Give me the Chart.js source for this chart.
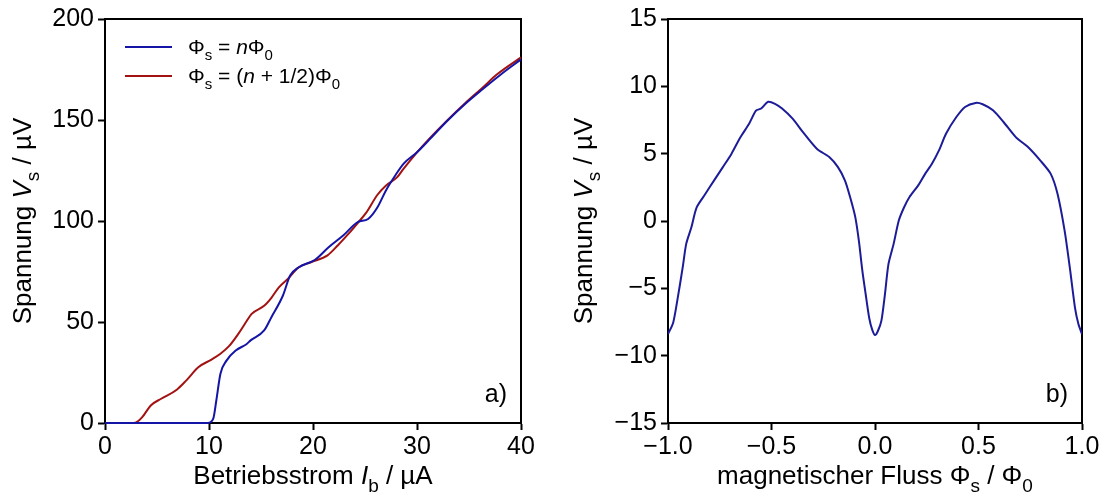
<!DOCTYPE html>
<html>
<head>
<meta charset="utf-8">
<script src="https://cdn.jsdelivr.net/npm/chart.js@4.4.1/dist/chart.umd.min.js"></script>
<style>
  html, body { margin: 0; padding: 0; background: #fff; }
  #wrap { position: relative; width: 1105px; height: 497px; overflow: hidden; }
  canvas { position: absolute; top: 0; }
</style>
</head>
<body>
<div id="wrap">
  <canvas id="ivc" width="552" height="497" style="left:0px"></canvas>
  <canvas id="vphi" width="553" height="497" style="left:552px"></canvas>
</div>
<script>
// ---- a) current-voltage characteristics ----
// bias current I_b in µA and voltage V_s in µV, flux at integer multiples of Φ0
const ibInteger = [0, 2, 4, 6, 8, 9.9, 10.4, 10.7, 11.1, 11.7, 12.6, 13.6, 14.0, 15.3, 16.0, 17.1, 17.8, 18.6, 20.2, 21.5, 22.9, 24.3, 25.3, 26.2, 27.0, 27.7, 28.7, 30.0, 31.1, 32.9, 34.6, 36.3, 38.0, 40];
const vsInteger = [0, 0, 0, 0, 0, 0, 2, 11, 24.4, 31, 36, 39, 40.9, 45.8, 52.4, 63, 73, 77, 80.8, 87, 92.8, 99.4, 101, 106.8, 115, 120.9, 128.3, 134, 139.8, 149.5, 157.8, 165.2, 172.3, 180];
// flux at half-integer multiples of Φ0
const ibHalf = [0, 1.5, 2.7, 3.2, 3.6, 4.4, 5.4, 6.9, 7.8, 9.0, 10.2, 11.1, 11.9, 12.8, 13.5, 14.1, 15.3, 16.0, 16.7, 17.6, 18.6, 19.8, 21.4, 22.4, 23.4, 24.3, 25.1, 26.2, 27.0, 28.1, 28.7, 30.0, 31.1, 32.9, 34.6, 36.3, 37.7, 40];
const vsHalf = [0, 0, 0, 1, 3, 8.7, 12, 16.5, 21, 27.7, 31.3, 34.3, 37.9, 44, 49.5, 54, 58, 62, 67, 71.4, 77, 79.6, 83, 88, 93.6, 99, 104, 113, 117.5, 121.7, 125.8, 134, 140.3, 149.8, 158.2, 166, 172.6, 181];
const ibTicks = [0, 10, 20, 30, 40];
const vsTicks = [0, 50, 100, 150, 200];

// ---- b) voltage-flux characteristic ----
const fluxValues = [-1.0, -0.975, -0.955, -0.929, -0.912, -0.887, -0.862, -0.82, -0.778, -0.735, -0.693, -0.651, -0.609, -0.575, -0.55, -0.516, -0.483, -0.449, -0.398, -0.348, -0.28, -0.221, -0.179, -0.145, -0.12, -0.095, -0.078, -0.061, -0.045, -0.028, -0.014, 0.0, 0.014, 0.031, 0.048, 0.065, 0.09, 0.115, 0.14, 0.166, 0.208, 0.242, 0.275, 0.309, 0.343, 0.393, 0.435, 0.486, 0.52, 0.57, 0.621, 0.68, 0.739, 0.798, 0.849, 0.882, 0.916, 0.941, 0.966, 0.983, 1.0];
const voltageValues = [-8.4, -7.55, -5.9, -3.45, -1.7, -0.47, 1.0, 2.0, 3.0, 4.0, 5.0, 6.2, 7.2, 8.2, 8.35, 8.85, 8.7, 8.35, 7.6, 6.6, 5.35, 4.75, 4.0, 3.0, 1.76, 0.27, -1.46, -3.7, -5.44, -7.2, -8.05, -8.47, -8.17, -7.4, -5.44, -3.2, -1.7, 0.03, 1.0, 1.76, 2.63, 3.5, 4.25, 5.24, 6.48, 7.72, 8.47, 8.77, 8.67, 8.22, 7.35, 6.23, 5.49, 4.5, 3.5, 2.0, -0.72, -3.45, -6.43, -7.67, -8.4];
const fluxTicks = [-1.0, -0.5, 0.0, 0.5, 1.0];
const voltTicks = [-15, -10, -5, 0, 5, 10, 15];

const FONT = '"Liberation Sans", Arial, Helvetica, sans-serif';
const TICK_SIZE = 25;
const TITLE_SIZE = 26;
const BLUE = '#1414a6';
const RED = '#a31212';
const NAVY = '#1c1c98';

const toPoints = (xs, ys) => xs.map((x, i) => ({ x: x, y: ys[i] }));
const minus = s => String(s).replace('-', '\u2212');

// draws a line of text made of runs (italic / subscript)
function drawRich(ctx, parts, x, y, size, align, rot) {
  const fontFor = p => (p.it ? 'italic ' : '') + (p.sub ? Math.round(size * 0.72) : size) + 'px ' + FONT;
  let total = 0;
  const widths = parts.map(p => { ctx.font = fontFor(p); const w = ctx.measureText(p.t).width; total += w; return w; });
  ctx.save();
  ctx.translate(x, y);
  if (rot) ctx.rotate(rot);
  let cx = align === 'center' ? -total / 2 : (align === 'right' ? -total : 0);
  ctx.textBaseline = 'alphabetic';
  ctx.textAlign = 'left';
  ctx.fillStyle = '#000';
  parts.forEach((p, i) => {
    ctx.font = fontFor(p);
    ctx.fillText(p.t, cx, p.sub ? size * 0.3 : 0);
    cx += widths[i];
  });
  ctx.restore();
}

// frame, axis titles, panel letter and legend
function decorations(cfg) {
  return {
    id: 'decorations',
    beforeDatasetsDraw(chart) {
      const ctx = chart.ctx;
      const a = chart.chartArea;
      ctx.save();
      ctx.strokeStyle = '#000';
      ctx.lineWidth = 2;
      ctx.strokeRect(a.left, a.top, a.right - a.left, a.bottom - a.top);
      ctx.restore();
    },
    afterDraw(chart) {
      const ctx = chart.ctx;
      const a = chart.chartArea;
      const cxm = (a.left + a.right) / 2;
      const cym = (a.top + a.bottom) / 2;
      drawRich(ctx, cfg.xTitle, cxm, 484, TITLE_SIZE, 'center', 0);
      drawRich(ctx, cfg.yTitle, cfg.yTitleX, cym, TITLE_SIZE, 'center', -Math.PI / 2);
      ctx.save();
      ctx.font = TICK_SIZE + 'px ' + FONT;
      ctx.fillStyle = '#000';
      ctx.textAlign = 'right';
      ctx.textBaseline = 'alphabetic';
      ctx.fillText(cfg.letter, a.right - 14, a.bottom - 21);
      ctx.restore();
      if (cfg.legend) {
        cfg.legend.forEach((item, i) => {
          const ds = chart.data.datasets[item.dataset];
          const ly = a.top + 28 + i * 29;
          ctx.save();
          ctx.strokeStyle = ds.borderColor;
          ctx.lineWidth = 2;
          ctx.beginPath();
          ctx.moveTo(a.left + 20, ly);
          ctx.lineTo(a.left + 67, ly);
          ctx.stroke();
          ctx.restore();
          drawRich(ctx, item.parts, a.left + 83, ly + 7, 21, 'left', 0);
        });
      }
    }
  };
}

function scaleX(min, max, ticks, fmt, height) {
  return {
    type: 'linear', min: min, max: max,
    afterBuildTicks: s => { s.ticks = ticks.map(v => ({ value: v })); },
    afterFit: s => { s.height = height; },
    border: { display: true, color: '#000', width: 2 },
    grid: { display: true, drawOnChartArea: false, drawTicks: true, tickLength: 7, tickWidth: 2, tickColor: '#000' },
    ticks: { color: '#000', padding: 2, maxRotation: 0, autoSkip: false, font: { family: FONT, size: TICK_SIZE }, callback: fmt }
  };
}
function scaleY(min, max, ticks, fmt, width) {
  return {
    type: 'linear', min: min, max: max,
    afterBuildTicks: s => { s.ticks = ticks.map(v => ({ value: v })); },
    afterFit: s => { s.width = width; },
    border: { display: true, color: '#000', width: 2 },
    grid: { display: true, drawOnChartArea: false, drawTicks: true, tickLength: 7, tickWidth: 2, tickColor: '#000' },
    ticks: { color: '#000', padding: 4, autoSkip: false, font: { family: FONT, size: TICK_SIZE }, callback: fmt }
  };
}

const common = {
  responsive: false,
  animation: false,
  devicePixelRatio: 1,
  plugins: { legend: { display: false }, tooltip: { enabled: false } },
  elements: { point: { radius: 0 } }
};

const voltTitle = [{ t: 'Spannung ' }, { t: 'V', it: true }, { t: 's', sub: true }, { t: ' / µV' }];

new Chart(document.getElementById('ivc'), {
  type: 'line',
  data: {
    datasets: [
      { data: toPoints(ibInteger, vsInteger), borderColor: BLUE, borderWidth: 2, cubicInterpolationMode: 'monotone', fill: false, clip: 2 },
      { data: toPoints(ibHalf, vsHalf), borderColor: RED, borderWidth: 2, cubicInterpolationMode: 'monotone', fill: false, clip: 2 }
    ]
  },
  options: Object.assign({}, common, {
    layout: { padding: { left: 0, top: 19, right: 31, bottom: 0 } },
    scales: {
      x: scaleX(0, 40, ibTicks, v => String(v), 74),
      y: scaleY(0, 200, vsTicks, v => String(v), 105)
    }
  }),
  plugins: [decorations({
    xTitle: [{ t: 'Betriebsstrom ' }, { t: 'I', it: true }, { t: 'b', sub: true }, { t: ' / µA' }],
    yTitle: voltTitle,
    yTitleX: 31,
    letter: 'a)',
    legend: [
      { dataset: 0, parts: [{ t: 'Φ' }, { t: 's', sub: true }, { t: ' = ' }, { t: 'n', it: true }, { t: 'Φ' }, { t: '0', sub: true }] },
      { dataset: 1, parts: [{ t: 'Φ' }, { t: 's', sub: true }, { t: ' = (' }, { t: 'n', it: true }, { t: ' + 1/2)Φ' }, { t: '0', sub: true }] }
    ]
  })]
});

new Chart(document.getElementById('vphi'), {
  type: 'line',
  data: {
    datasets: [
      { data: toPoints(fluxValues, voltageValues), borderColor: NAVY, borderWidth: 2, tension: 0.25, fill: false }
    ]
  },
  options: Object.assign({}, common, {
    layout: { padding: { left: 0, top: 19, right: 23, bottom: 0 } },
    scales: {
      x: scaleX(-1, 1, fluxTicks, v => minus(Number(v).toFixed(1)), 74),
      y: scaleY(-15, 15, voltTicks, v => minus(v), 116)
    }
  }),
  plugins: [decorations({
    xTitle: [{ t: 'magnetischer Fluss Φ' }, { t: 's', sub: true }, { t: ' / Φ' }, { t: '0', sub: true }],
    yTitle: voltTitle,
    yTitleX: 40,
    letter: 'b)'
  })]
});
</script>
</body>
</html>
